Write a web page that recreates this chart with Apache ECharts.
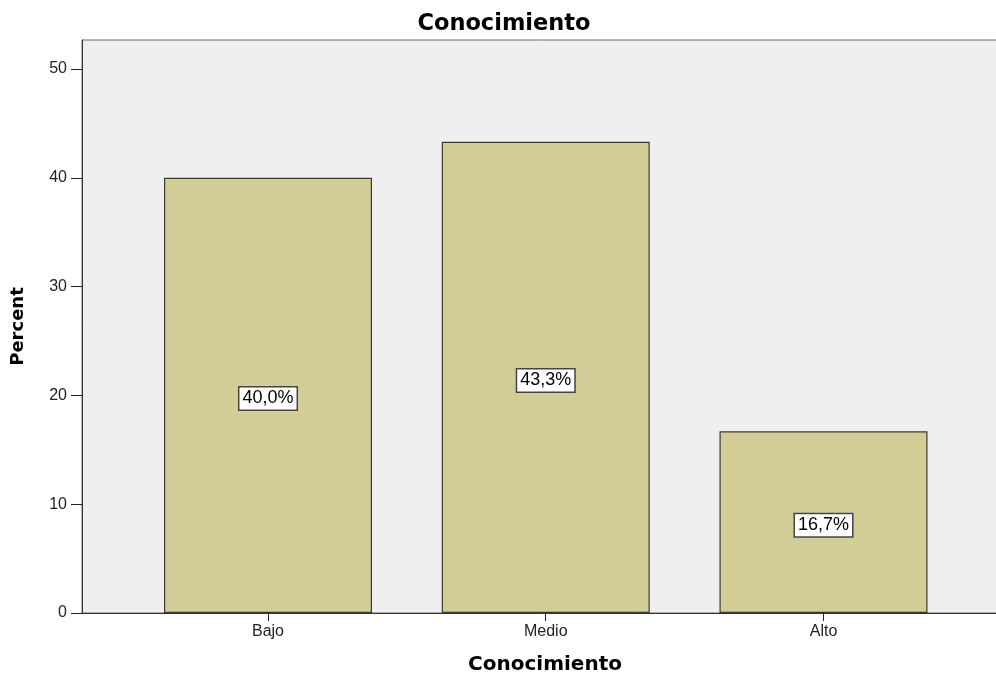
<!DOCTYPE html>
<html>
<head>
<meta charset="utf-8">
<style>html,body{margin:0;padding:0;background:#fff;overflow:hidden;}#c{width:996px;height:676px;}</style>
<script src="https://cdn.jsdelivr.net/npm/echarts@6/dist/echarts.min.js"></script>
</head>
<body>
<div id="c"></div>
<script>
const categories = ['Bajo', 'Medio', 'Alto'];
const percentValues = [40.0, 43.3, 16.7];
const yTicks = [0, 10, 20, 30, 40, 50];

const el = document.getElementById('c');
const chart = echarts.init(el, null, {renderer: 'canvas'});
const data = percentValues.map((v, i) => [i, v]);
const font = 'Liberation Sans, Arial, sans-serif';
const boldFont = 'DejaVu Sans, sans-serif';

chart.setOption({
  animation: false,
  title: {
    text: 'Conocimiento', left: 499, top: 8, textAlign: 'center',
    textStyle: {fontFamily: boldFont, fontSize: 22.5, fontWeight: 'bold', color: '#000'}
  },
  grid: {
    left: 82, right: -4, top: 40, bottom: 63,
    outerBoundsMode: 'none', containLabel: false,
    show: true, backgroundColor: '#EFEFEF', borderColor: '#6a6a6a', borderWidth: 1
  },
  xAxis: {
    type: 'value', min: -0.6697, max: 2.6355,
    splitLine: {show: false},
    axisLine: {show: true, onZero: false, lineStyle: {color: '#333', width: 1}},
    axisTick: {show: true, customValues: [0, 1, 2], length: 8, lineStyle: {color: '#222'}},
    axisLabel: {
      customValues: [0, 1, 2],
      formatter: v => categories[Math.round(v)] || '',
      fontFamily: font, fontSize: 16, color: '#222', margin: 11
    },
    name: 'Conocimiento', nameLocation: 'middle', nameGap: 42,
    nameTextStyle: {fontFamily: boldFont, fontSize: 20, fontWeight: 'bold', color: '#000', padding: [0, 0, 0, 8]}
  },
  yAxis: {
    type: 'value', min: 0, max: 52.66,
    splitLine: {show: false},
    axisLine: {show: true, onZero: false, lineStyle: {color: '#333', width: 1}},
    axisTick: {show: true, customValues: yTicks, length: 11, lineStyle: {color: '#222'}},
    axisLabel: {
      customValues: yTicks,
      fontFamily: font, fontSize: 16, color: '#222', margin: 15
    },
    name: 'Percent', nameLocation: 'middle', nameGap: 49,
    nameTextStyle: {fontFamily: boldFont, fontSize: 18, fontWeight: 'bold', color: '#000', padding: [0, 0, 6, 0]}
  },
  series: [{
    type: 'bar',
    data: data,
    barWidth: 208,
    itemStyle: {color: '#D2CD96', borderColor: '#3a3a30', borderWidth: 1.2},
    label: {
      show: true, position: 'inside', offset: [0, 3],
      formatter: p => p.value[1].toFixed(1).replace('.', ',') + '%',
      fontFamily: font, fontSize: 18, color: '#000',
      backgroundColor: '#fff', borderColor: '#444', borderWidth: 1.5,
      padding: [3, 3, 1, 3]
    }
  }]
});
</script>
</body>
</html>
